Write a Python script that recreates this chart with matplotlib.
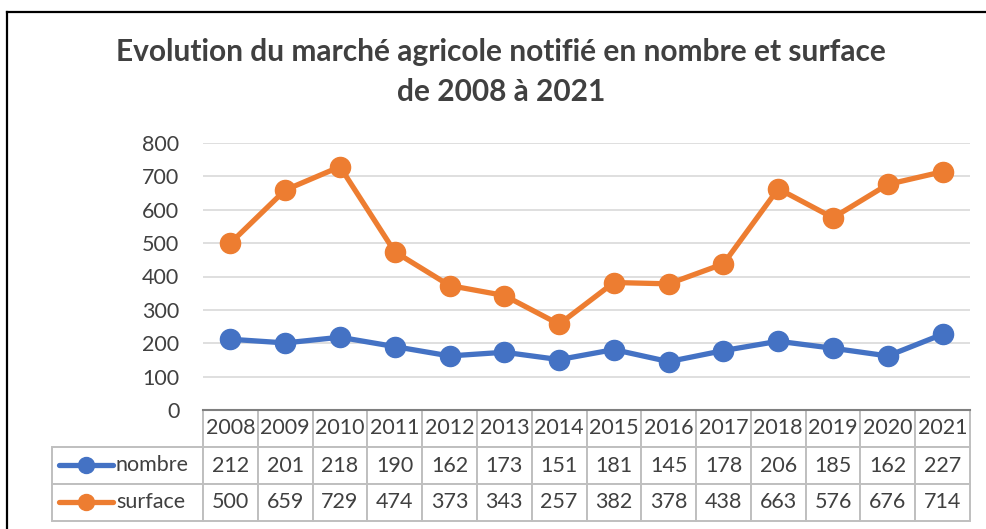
import matplotlib
matplotlib.use("Agg")
import matplotlib.pyplot as plt
from matplotlib.lines import Line2D

plt.rcParams['font.family'] = ['Lato', 'DejaVu Sans']

years = ["2008", "2009", "2010", "2011", "2012", "2013", "2014",
         "2015", "2016", "2017", "2018", "2019", "2020", "2021"]
nombre = [212, 201, 218, 190, 162, 173, 151, 181, 145, 178, 206, 185, 162, 227]
surface = [500, 659, 729, 474, 373, 343, 257, 382, 378, 438, 663, 576, 676, 714]
series_names = ["nombre", "surface"]
title_lines = ["Evolution du marché agricole notifié en nombre et surface",
               "de 2008 à 2021"]
y_ticks = [0, 100, 200, 300, 400, 500, 600, 700, 800]

BLUE = "#4472C4"
ORANGE = "#ED7D31"
TXT = "#404040"
GRID = "#D9D9D9"
TBL = "#BFBFBF"

W, H = 987, 529
fig = plt.figure(figsize=(W / 100, H / 100), dpi=100)
fig.patch.set_facecolor("white")

# Plot area in pixels
px_l, px_r, px_top, px_bot = 203, 970, 143, 410
ax = fig.add_axes([px_l / W, 1 - px_bot / H, (px_r - px_l) / W, (px_bot - px_top) / H])

x = list(range(len(years)))
ax.plot(x, nombre, color=BLUE, lw=3.8, marker='o', ms=14.5, solid_capstyle='round', zorder=3)
ax.plot(x, surface, color=ORANGE, lw=3.8, marker='o', ms=14.5, solid_capstyle='round', zorder=3)

ax.set_xlim(-0.5, len(years) - 0.5)
ax.set_ylim(0, 800)
ax.set_yticks(y_ticks)
ax.set_yticklabels([str(v) for v in y_ticks], fontsize=15.5, color=TXT)
ax.tick_params(axis='y', length=0, pad=17)
ax.set_xticks([])
ax.yaxis.grid(True, color=GRID, lw=1.2)
ax.set_axisbelow(True)
for s in ["left", "right", "top"]:
    ax.spines[s].set_visible(False)
ax.spines["bottom"].set_color("#7F7F7F")
ax.spines["bottom"].set_linewidth(1.5)
ax.spines["bottom"].set_zorder(5)

# Data table
axw = px_r - px_l
axh = px_bot - px_top
lab_l = 52
tbl_bot = 521
colw = axw / len(years)
cell_text = [[""] + years,
             [""] + [str(v) for v in nombre],
             [""] + [str(v) for v in surface]]
col_widths = [(px_l - lab_l)] + [colw] * len(years)
tot = sum(col_widths)
col_widths = [c / tot for c in col_widths]
tbl = ax.table(cellText=cell_text, colWidths=col_widths, cellLoc='center',
               bbox=[(lab_l - px_l) / axw, (px_bot - tbl_bot) / axh,
                     (px_r - lab_l) / axw, (tbl_bot - px_bot) / axh])
tbl.auto_set_font_size(False)
tbl.set_fontsize(15.5)
for (r, c), cell in tbl.get_celld().items():
    cell.set_edgecolor(TBL)
    cell.set_linewidth(1.4)
    cell.get_text().set_color(TXT)
    if r == 0 and c == 0:
        cell.visible_edges = ""

# Row labels with legend keys
row_centers = [465, 502]
colors = [BLUE, ORANGE]
for name, yc, col in zip(series_names, row_centers, colors):
    ya = (px_bot - yc) / axh
    x0 = (59 - px_l) / axw
    x1 = (113 - px_l) / axw
    ax.plot([x0, (x0 + x1) / 2, x1], [ya, ya, ya], transform=ax.transAxes,
            color=col, lw=3.8, marker='o', ms=11.5, markevery=[1],
            solid_capstyle='round', clip_on=False, zorder=6)
    ax.text((116 - px_l) / axw, ya, name, transform=ax.transAxes,
            ha='left', va='center', fontsize=15.5, color=TXT)

# Title
fig.text(0.508, 1 - 52 / H, title_lines[0], ha='center', va='center',
         fontsize=21.5, fontweight='bold', color=TXT)
fig.text(0.508, 1 - 92 / H, title_lines[1], ha='center', va='center',
         fontsize=21.5, fontweight='bold', color=TXT)

# Outer frame (left and top visible)
fig.add_artist(Line2D([7 / W, 7 / W], [0, 1 - 12 / H], transform=fig.transFigure,
                      color="black", lw=1.6))
fig.add_artist(Line2D([7 / W, 1], [1 - 12 / H, 1 - 12 / H], transform=fig.transFigure,
                      color="black", lw=1.6))

fig.savefig("out.png", dpi=100)
